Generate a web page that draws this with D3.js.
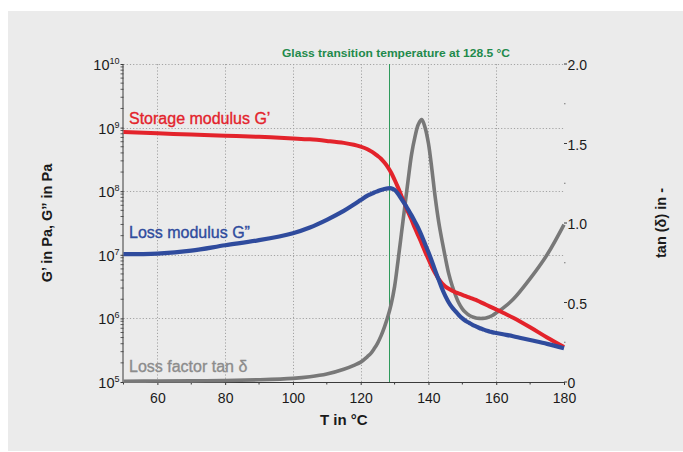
<!DOCTYPE html>
<html>
<head>
<meta charset="utf-8">
<script src="https://cdn.jsdelivr.net/npm/d3@7"></script>
<style>
  html, body { margin: 0; padding: 0; background: #ffffff; }
  svg { display: block; font-family: "Liberation Sans", Arial, Helvetica, sans-serif; }
</style>
</head>
<body>
<svg id="chart" width="683" height="452"></svg>
<script>
// ---- data ----
const temperature = [50,60,70,80,90,100,105,110,115,118,120,122,123,124,125,126,127,128,129,130,131,132,133,134,135,136,137,138,139,140,141,142,143,144,145,146,147,148,149,150,151,152,153,154,155,156,157,158,159,160,162,165,170,175,180];
// log10 of storage modulus G' in Pa
const storageLog = [8.93,8.91,8.89,8.873,8.855,8.83,8.815,8.79,8.76,8.73,8.70,8.66,8.63,8.595,8.555,8.51,8.45,8.38,8.29,8.18,8.06,7.93,7.80,7.67,7.55,7.42,7.30,7.18,7.05,6.93,6.81,6.71,6.62,6.55,6.50,6.465,6.435,6.41,6.39,6.37,6.35,6.33,6.31,6.29,6.265,6.24,6.215,6.19,6.165,6.14,6.09,6.01,5.86,5.70,5.55];
// log10 of loss modulus G'' in Pa
const lossLog = [7.01,7.02,7.065,7.15,7.23,7.34,7.43,7.55,7.69,7.79,7.86,7.93,7.955,7.98,8.00,8.02,8.035,8.045,8.045,8.02,7.96,7.88,7.80,7.71,7.62,7.52,7.42,7.30,7.17,7.04,6.90,6.75,6.61,6.47,6.35,6.25,6.17,6.11,6.05,6.00,5.96,5.93,5.90,5.875,5.85,5.83,5.81,5.795,5.78,5.77,5.75,5.72,5.66,5.60,5.53];
// loss factor tan delta
const tanDelta = [0.005,0.006,0.007,0.009,0.014,0.023,0.033,0.05,0.08,0.105,0.125,0.16,0.18,0.21,0.245,0.29,0.345,0.41,0.49,0.60,0.76,0.93,1.10,1.27,1.43,1.54,1.62,1.65,1.60,1.50,1.34,1.16,1.01,0.89,0.78,0.68,0.605,0.545,0.495,0.46,0.437,0.42,0.41,0.403,0.40,0.40,0.403,0.41,0.42,0.435,0.465,0.52,0.65,0.80,0.99];

const glassTransition = 128.5;
const xTicks = [60,80,100,120,140,160,180];
const xMinorTicks = [50,70,90,110,130,150,170];
const leftTicks = [1e5,1e6,1e7,1e8,1e9,1e10];
const rightTicks = [0,0.5,1.0,1.5,2.0];
const rightTickLabels = ["0","0.5","1.0","1.5","2.0"];
const rightMinorTicks = [0.25,0.75,1.25,1.75];
const seriesLabels = ["Storage modulus G\u2019","Loss modulus G\u201D","Loss factor tan \u03B4"];
const titleText = "Glass transition temperature at 128.5 \u00B0C";
const xTitle = "T in \u00B0C";
const yLeftTitle = "G\u2019 in Pa, G\u201D in Pa";
const yRightTitle = "tan (\u03B4) in -";

// ---- layout ----
const svg = d3.select("#chart");
const L = 123.5, R = 564, T = 64, B = 382;

svg.append("rect").attr("x", 8).attr("y", 11).attr("width", 675).attr("height", 440).attr("fill", "#ebebeb");

const x = d3.scaleLinear().domain([50,180]).range([L,R]);
const yL = d3.scaleLog().domain([1e5,1e10]).range([B,T]);
const yR = d3.scaleLinear().domain([0,2]).range([B,T]);

// grid
const grid = svg.append("g").attr("stroke", "#a3a3a3").attr("stroke-width", 1).attr("stroke-dasharray", "1.2,2");
grid.selectAll("line.v").data(xTicks.filter(d => d < 180)).join("line")
  .attr("x1", d => Math.round(x(d)) + 0.5).attr("x2", d => Math.round(x(d)) + 0.5)
  .attr("y1", T).attr("y2", B);
grid.selectAll("line.h").data(leftTicks.filter(d => d > 1e5)).join("line")
  .attr("x1", L).attr("x2", R + 1)
  .attr("y1", d => Math.round(yL(d)) + 0.5).attr("y2", d => Math.round(yL(d)) + 0.5);

// glass transition line
const gx0 = Math.floor(x(glassTransition)) + 0.5;
svg.append("line").attr("x1", gx0).attr("x2", gx0)
  .attr("y1", T).attr("y2", B).attr("stroke", "#2f9a5c").attr("stroke-width", 1);
svg.append("text").attr("x", 396).attr("y", 57).attr("text-anchor", "middle")
  .attr("fill", "#1f8a4c").attr("font-size", 11.5).attr("font-weight", "bold")
  .attr("textLength", 228).attr("lengthAdjust", "spacingAndGlyphs").text(titleText);

// axes
const axisColor = "#3a3a3a";
const gx = svg.append("g").attr("transform", `translate(0,${B})`)
  .call(d3.axisBottom(x).tickValues(xTicks).tickSize(3).tickPadding(5).tickFormat(d3.format("d")));
gx.call(g => g.select(".domain").attr("stroke", axisColor).attr("d", `M${L},0.5H${R}`));
gx.selectAll(".tick line").attr("stroke", axisColor);
gx.selectAll(".tick text").attr("font-size", 14).attr("fill", "#1a1a1a").attr("font-family", null).attr("dy", "0.95em");
gx.selectAll("line.minor").data(xMinorTicks).join("line").attr("class", "minor")
  .attr("x1", d => x(d)).attr("x2", d => x(d)).attr("y1", 0).attr("y2", 2.5).attr("stroke", axisColor);

const gl = svg.append("g").attr("transform", `translate(${L},0)`)
  .call(d3.axisLeft(yL).tickValues(leftTicks).tickSize(3).tickFormat(() => ""));
gl.call(g => g.select(".domain").attr("stroke", axisColor).attr("d", `M-0.5,${T}V${B}`));
gl.selectAll(".tick line").attr("stroke", axisColor);
const minorLog = [];
leftTicks.slice(0, -1).forEach(d => { for (let k = 2; k <= 9; k++) minorLog.push(d * k); });
gl.selectAll("line.minor").data(minorLog).join("line").attr("class", "minor")
  .attr("x1", -3).attr("x2", 0).attr("y1", d => yL(d)).attr("y2", d => yL(d))
  .attr("stroke", axisColor).attr("stroke-width", 0.8);
const ll = gl.selectAll("text.lab").data(leftTicks).join("text").attr("class", "lab")
  .attr("x", -4).attr("y", d => yL(d) + 6).attr("text-anchor", "end")
  .attr("fill", "#1a1a1a").attr("font-size", 14.5);
ll.append("tspan").text("10");
ll.append("tspan").attr("font-size", 9).attr("dy", -6).text(d => Math.round(Math.log10(d)));

const gr = svg.append("g").attr("transform", `translate(${R},0)`);
gr.selectAll("line.maj").data(rightTicks).join("line").attr("class", "maj")
  .attr("x1", 0).attr("x2", 3).attr("y1", d => yR(d)).attr("y2", d => yR(d)).attr("stroke", axisColor);
gr.selectAll("line.minor").data(rightMinorTicks).join("line").attr("class", "minor")
  .attr("x1", 0).attr("x2", 1.5).attr("y1", d => yR(d)).attr("y2", d => yR(d)).attr("stroke", "#777");
gr.selectAll("text").data(rightTicks).join("text")
  .attr("x", 3.5).attr("y", d => yR(d) + 6).attr("fill", "#1a1a1a").attr("font-size", 14)
  .text((d, i) => rightTickLabels[i]);

// axis titles
svg.append("text").attr("x", x(115)).attr("y", 425).attr("text-anchor", "middle")
  .attr("font-size", 15).attr("font-weight", "bold").attr("fill", "#1a1a1a").text(xTitle);
svg.append("text").attr("transform", `translate(52,${(T+B)/2}) rotate(-90)`).attr("text-anchor", "middle")
  .attr("font-size", 14.5).attr("font-weight", "bold").attr("fill", "#1a1a1a").text(yLeftTitle);
svg.append("text").attr("transform", `translate(666,${(T+B)/2}) rotate(-90)`).attr("text-anchor", "middle")
  .attr("font-size", 14.5).attr("font-weight", "bold").attr("fill", "#1a1a1a").text(yRightTitle);

// curves
const rows = temperature.map((t, i) => ({t, g1: Math.pow(10, storageLog[i]), g2: Math.pow(10, lossLog[i]), td: tanDelta[i]}));
const curve = d3.curveCatmullRom.alpha(0.5);
const lineTan = d3.line().x(d => x(d.t)).y(d => yR(d.td)).curve(curve);
const lineG1 = d3.line().x(d => x(d.t)).y(d => yL(d.g1)).curve(curve);
const lineG2 = d3.line().x(d => x(d.t)).y(d => yL(d.g2)).curve(curve);

svg.append("path").datum(rows).attr("d", lineTan).attr("fill", "none")
  .attr("stroke", "#787878").attr("stroke-width", 3.6).attr("stroke-linejoin", "round");
svg.append("path").datum(rows).attr("d", lineG1).attr("fill", "none")
  .attr("stroke", "#e3232b").attr("stroke-width", 4).attr("stroke-linejoin", "round");
svg.append("path").datum(rows).attr("d", lineG2).attr("fill", "none")
  .attr("stroke", "#2f4b9d").attr("stroke-width", 4.2).attr("stroke-linejoin", "round");

// series labels
const labelColors = ["#e3232b", "#2f4b9d", "#8c8c8c"];
const labelY = [124, 238, 371.5];
svg.selectAll("text.series").data(seriesLabels).join("text").attr("class", "series")
  .attr("x", 129).attr("y", (d, i) => labelY[i])
  .attr("font-size", 16).attr("fill", (d, i) => labelColors[i])
  .attr("stroke", (d, i) => labelColors[i]).attr("stroke-width", 0.35)
  .text(d => d);
</script>
</body>
</html>
